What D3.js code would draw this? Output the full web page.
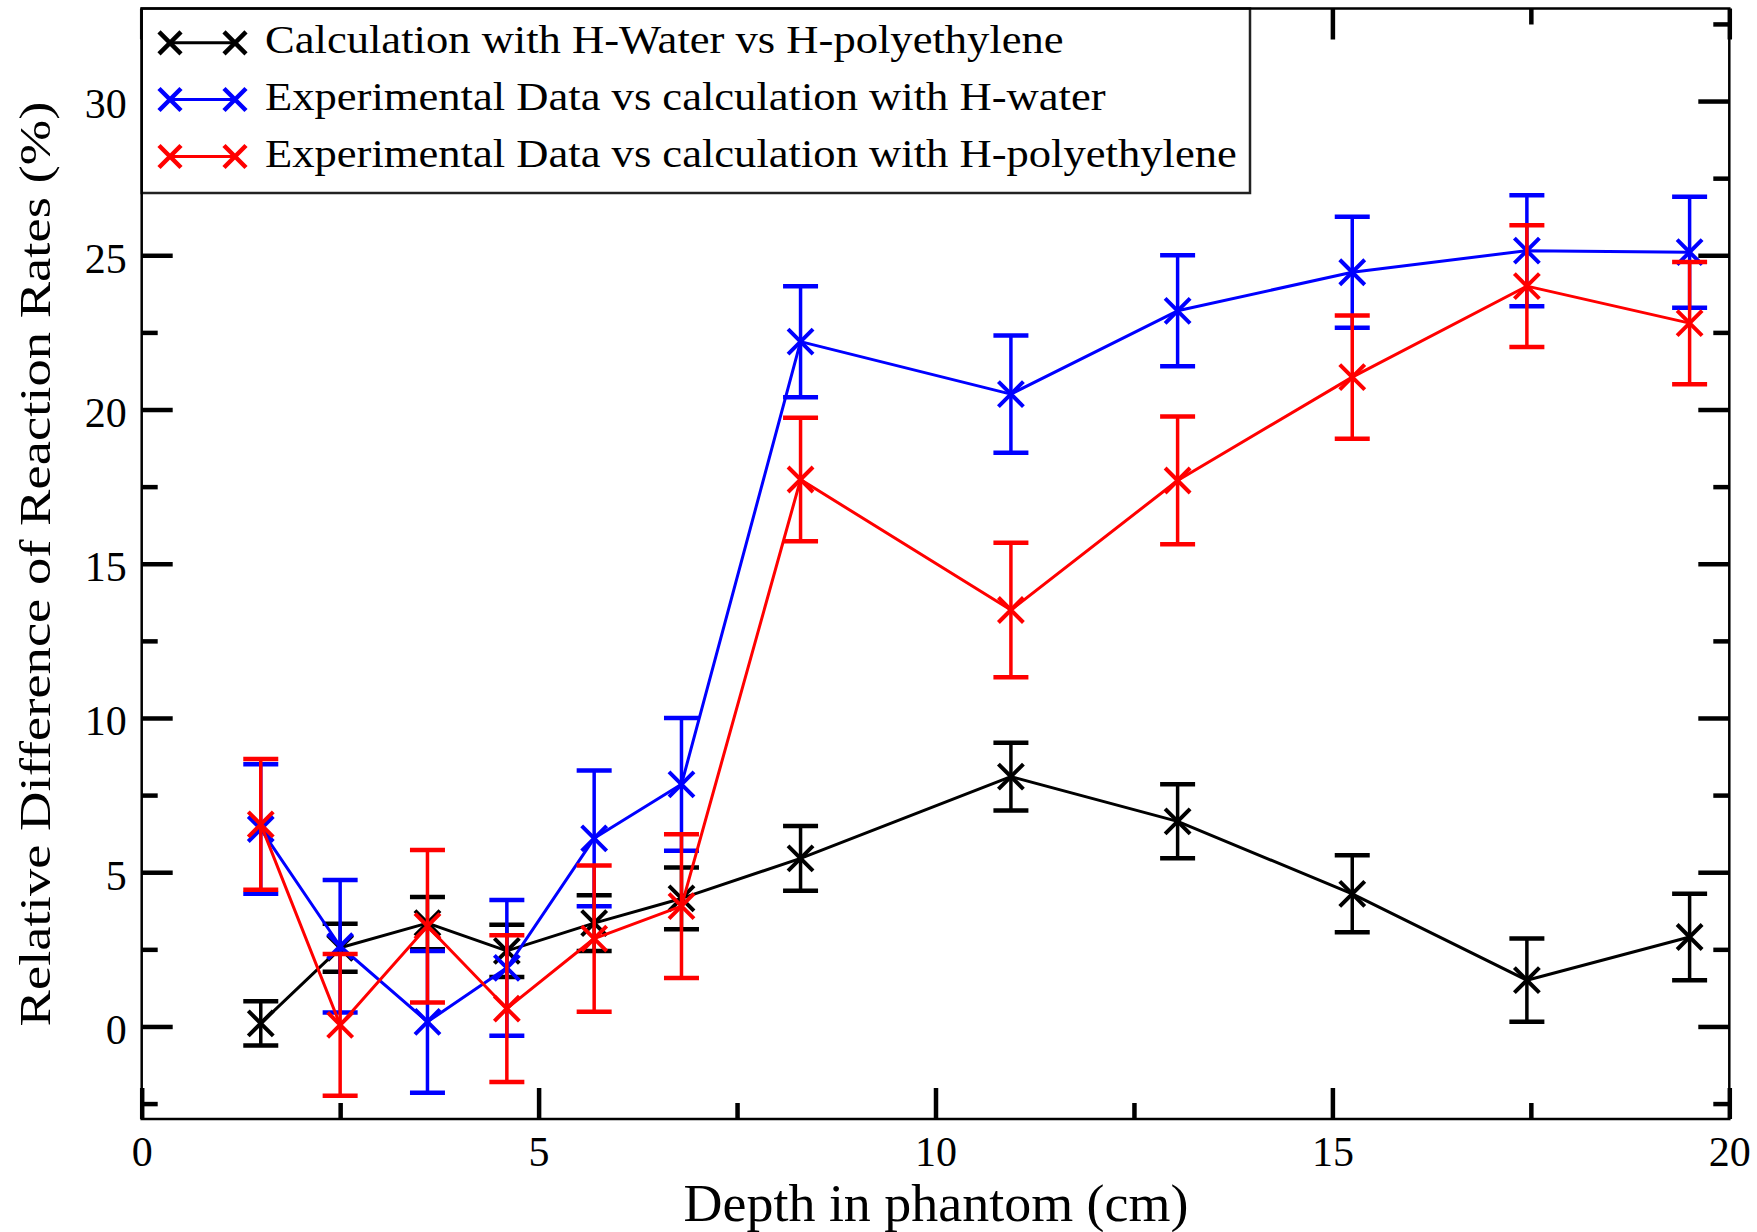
<!DOCTYPE html>
<html><head><meta charset="utf-8">
<script src="https://cdn.jsdelivr.net/npm/d3@7"></script>
<style>
body{margin:0;background:#fff}
svg{display:block}
</style>
</head><body>
<svg id="c" width="1757" height="1232"></svg>
<script>
// ---- data ----
const depth = [1.5, 2.5, 3.6, 4.6, 5.7, 6.8, 8.3, 10.95, 13.05, 15.25, 17.45, 19.5];
const calcWaterVsPoly    = [0.1, 2.55, 3.35, 2.45, 3.35, 4.15, 5.45, 8.1, 6.65, 4.3, 1.5, 2.9];
const calcWaterVsPolyErr = [0.72, 0.78, 0.85, 0.85, 0.9, 1.0, 1.05, 1.1, 1.2, 1.25, 1.35, 1.4];
const expVsWater    = [6.4, 2.6, 0.15, 1.9, 6.1, 7.85, 22.2, 20.5, 23.2, 24.45, 25.15, 25.1];
const expVsWaterErr = [2.1, 2.15, 2.3, 2.2, 2.2, 2.15, 1.8, 1.9, 1.8, 1.8, 1.8, 1.8];
const expVsPoly    = [6.55, 0.05, 3.25, 0.58, 2.85, 3.9, 17.73, 13.5, 17.7, 21.05, 24.0, 22.8];
const expVsPolyErr = [2.12, 2.3, 2.47, 2.38, 2.37, 2.33, 2.0, 2.18, 2.07, 2.0, 1.97, 1.98];
const seriesNames = [
  "Calculation with H-Water vs H-polyethylene",
  "Experimental Data vs calculation with H-water",
  "Experimental Data vs calculation with H-polyethylene"
];
const seriesColors = ["#000000", "#0000ff", "#ff0000"];
const xMajorTicks = [0, 5, 10, 15, 20];
const xMinorTicks = [2.5, 7.5, 12.5, 17.5];
const yMajorTicks = [0, 5, 10, 15, 20, 25, 30];
const yMinorTicks = [-2.5, 2.5, 7.5, 12.5, 17.5, 22.5, 27.5, 32.5];
const xDomain = [0, 20];
const yDomain = [-3, 33];
const xTitle = "Depth in phantom (cm)";
const yTitle = "Relative Difference of Reaction Rates (%)";

// ---- font selection (pick an installed Times-like serif) ----
function pickFont() {
  const cands = ["Liberation Serif", "Times New Roman", "Tinos", "Nimbus Roman", "Nimbus Roman No9 L", "FreeSerif", "DejaVu Serif"];
  const ctx = document.createElement("canvas").getContext("2d");
  const s = "Calculation with H-Water 0123456789";
  for (const f of cands) {
    ctx.font = `40px monospace`; const w1 = ctx.measureText(s).width;
    ctx.font = `40px "${f}", monospace`; const w2 = ctx.measureText(s).width;
    ctx.font = `40px sans-serif`; const w3 = ctx.measureText(s).width;
    ctx.font = `40px "${f}", sans-serif`; const w4 = ctx.measureText(s).width;
    if (Math.abs(w1 - w2) > 0.5 && Math.abs(w3 - w4) > 0.5) return `"${f}", serif`;
  }
  return "serif";
}
const FONT = pickFont();

// ---- layout ----
const L = 141.7, R = 1729.3, T = 8.5, B = 1119;
const MAJ = 31, MIN = 16;
const svg = d3.select("#c");
const x = d3.scaleLinear().domain(xDomain).range([L, R]);
const y = d3.scaleLinear().domain(yDomain).range([B, T]);

const series = [
  {name: seriesNames[0], color: seriesColors[0], vals: calcWaterVsPoly, errs: calcWaterVsPolyErr},
  {name: seriesNames[1], color: seriesColors[1], vals: expVsWater, errs: expVsWaterErr},
  {name: seriesNames[2], color: seriesColors[2], vals: expVsPoly, errs: expVsPolyErr}
].map(s => ({...s, pts: depth.map((d, i) => ({x: d, y: s.vals[i], e: s.errs[i]}))}));

// ---- ticks via d3 axes (pointing inward) ----
function styleAxis(g, w) {
  g.select(".domain").remove();
  g.selectAll(".tick line").attr("stroke", "#000").attr("stroke-width", w);
}
const fs = 42;
function styleLabels(g) {
  g.attr("font-family", FONT).attr("font-size", fs);
  g.selectAll("text").attr("font-size", fs).attr("font-family", FONT).attr("fill", "#000");
}
// bottom
svg.append("g").attr("transform", `translate(0,${B})`)
  .call(d3.axisBottom(x).tickValues(xMajorTicks).tickSize(-MAJ).tickPadding(17).tickFormat(d3.format("d")))
  .call(g => styleAxis(g, 4.5)).call(styleLabels);
svg.append("g").attr("transform", `translate(0,${B})`)
  .call(d3.axisBottom(x).tickValues(xMinorTicks).tickSize(-MIN).tickFormat(""))
  .call(g => styleAxis(g, 4.5));
// top
svg.append("g").attr("transform", `translate(0,${T})`)
  .call(d3.axisTop(x).tickValues(xMajorTicks).tickSize(-MAJ).tickFormat(""))
  .call(g => styleAxis(g, 4.5));
svg.append("g").attr("transform", `translate(0,${T})`)
  .call(d3.axisTop(x).tickValues(xMinorTicks).tickSize(-MIN).tickFormat(""))
  .call(g => styleAxis(g, 4.5));
// left
svg.append("g").attr("transform", `translate(${L},0)`)
  .call(d3.axisLeft(y).tickValues(yMajorTicks).tickSize(-MAJ).tickPadding(15).tickFormat(d3.format("d")))
  .call(g => styleAxis(g, 4.5)).call(styleLabels)
  .call(g => g.selectAll("text").attr("dy", "0.40em"));
svg.append("g").attr("transform", `translate(${L},0)`)
  .call(d3.axisLeft(y).tickValues(yMinorTicks).tickSize(-MIN).tickFormat(""))
  .call(g => styleAxis(g, 4.5));
// right
svg.append("g").attr("transform", `translate(${R},0)`)
  .call(d3.axisRight(y).tickValues(yMajorTicks).tickSize(-MAJ).tickFormat(""))
  .call(g => styleAxis(g, 4.5));
svg.append("g").attr("transform", `translate(${R},0)`)
  .call(d3.axisRight(y).tickValues(yMinorTicks).tickSize(-MIN).tickFormat(""))
  .call(g => styleAxis(g, 4.5));

// ---- series ----
const MK = 12.5, CAP = 17.5;
function xMark(g, cx, cy, h, color, w) {
  g.append("path")
    .attr("d", `M${cx - h},${cy - h}L${cx + h},${cy + h}M${cx - h},${cy + h}L${cx + h},${cy - h}`)
    .attr("stroke", color).attr("stroke-width", w).attr("fill", "none");
}
const line = d3.line().x(d => x(d.x)).y(d => y(d.y));
series.forEach(s => {
  const g = svg.append("g");
  g.append("path").datum(s.pts).attr("d", line)
    .attr("fill", "none").attr("stroke", s.color).attr("stroke-width", 3).attr("stroke-linejoin", "round");
  s.pts.forEach(p => {
    const cx = x(p.x), yt = y(p.y + p.e), yb = y(p.y - p.e);
    g.append("line").attr("x1", cx).attr("x2", cx).attr("y1", yt).attr("y2", yb)
      .attr("stroke", s.color).attr("stroke-width", 3.5);
    [yt, yb].forEach(yy => g.append("line").attr("x1", cx - CAP).attr("x2", cx + CAP).attr("y1", yy).attr("y2", yy)
      .attr("stroke", s.color).attr("stroke-width", 4.5));
    xMark(g, cx, y(p.y), MK, s.color, 4);
  });
});

// ---- legend ----
const lg = svg.append("g");
lg.append("rect").attr("x", L).attr("y", T).attr("width", 1250 - L).attr("height", 193 - T)
  .attr("fill", "#fff").attr("stroke", "#222").attr("stroke-width", 2.5);
const rowBase = [53.3, 110, 167];
let legendSx = null;
series.forEach((s, i) => {
  const cy = rowBase[i] - 10.5;
  lg.append("line").attr("x1", 170).attr("x2", 235).attr("y1", cy).attr("y2", cy)
    .attr("stroke", s.color).attr("stroke-width", 3);
  xMark(lg, 170, cy, 11, s.color, 4.5);
  xMark(lg, 235, cy, 11, s.color, 4.5);
  const t = lg.append("text").attr("x", 0).attr("y", 0)
    .attr("font-family", FONT).attr("font-size", 39).attr("fill", "#000").text(s.name);
  if (legendSx === null) legendSx = 799 / t.node().getComputedTextLength();
  t.attr("transform", `translate(265,${rowBase[i]}) scale(${legendSx},1)`);
});

// ---- axis titles ----
const xt = svg.append("text").attr("font-family", FONT).attr("font-size", 53)
  .attr("text-anchor", "middle").attr("fill", "#000").text(xTitle);
const xsx = 505 / xt.node().getComputedTextLength();
xt.attr("transform", `translate(936,1221) scale(${xsx},1)`);
const yt = svg.append("text").attr("font-family", FONT).attr("font-size", 45)
  .attr("text-anchor", "middle").attr("fill", "#000").text(yTitle);
const ysx = 925 / yt.node().getComputedTextLength();
yt.attr("transform", `translate(50,564) rotate(-90) scale(${ysx},1)`);

// ---- frame ----
svg.append("rect").attr("x", L).attr("y", T).attr("width", R - L).attr("height", B - T)
  .attr("fill", "none").attr("stroke", "#000").attr("stroke-width", 2.5);
</script>
</body></html>
